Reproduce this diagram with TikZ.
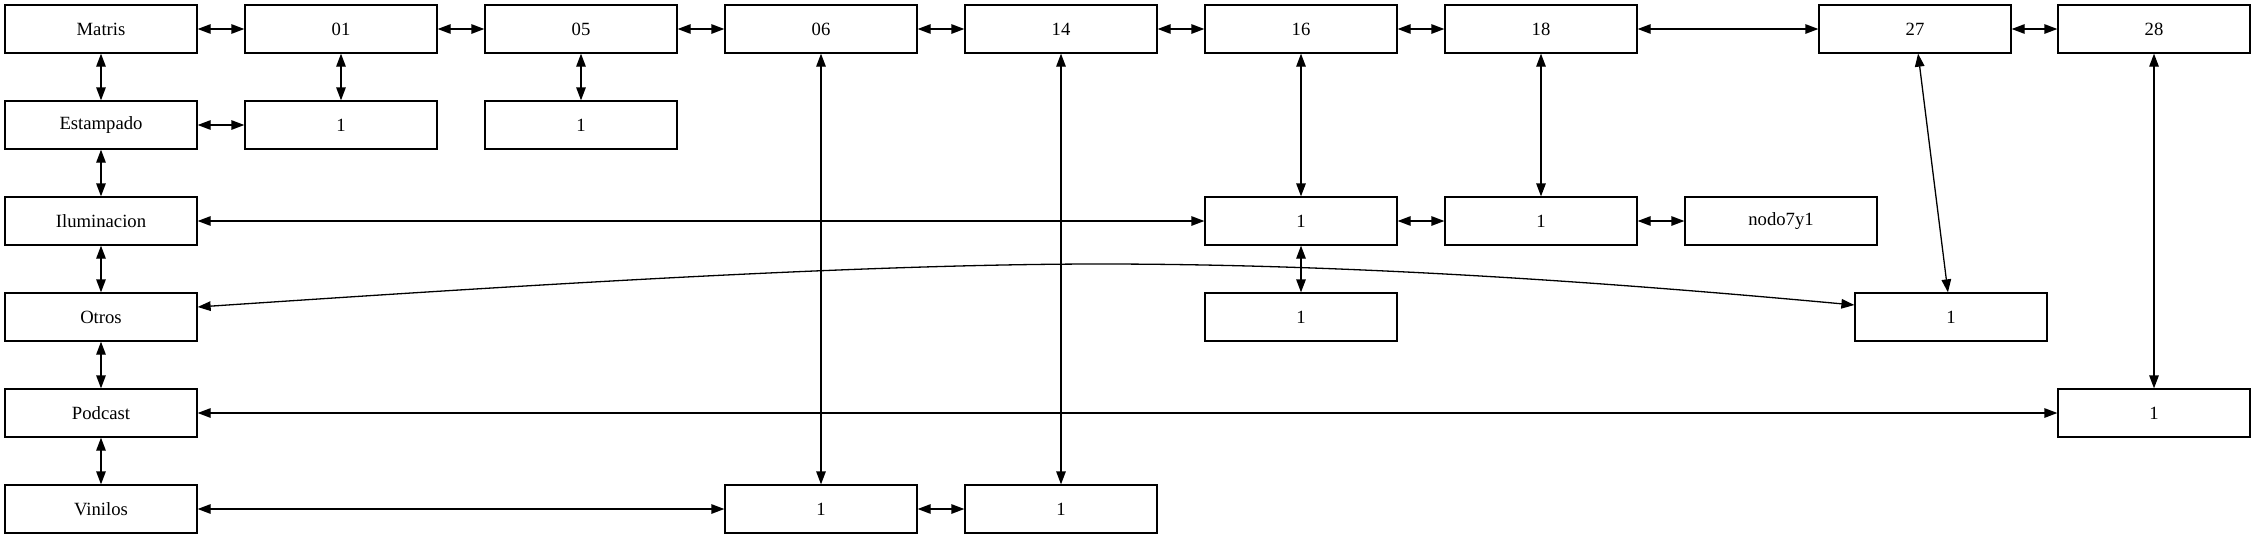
\documentclass[tikz,border=0pt]{standalone}
\usepackage{fontspec}
\setmainfont{Liberation Serif}
\usetikzlibrary{arrows.meta}
\tikzset{
  box/.style={draw=black, line width=1.3pt, minimum width=192pt, minimum height=48pt, inner sep=0pt,
    font=\fontsize{18.67pt}{22pt}\selectfont},
  conn/.style={line width=1.3pt, {Triangle[length=13pt,width=9.5pt]}-{Triangle[length=13pt,width=9.5pt]}},
}
\begin{document}
\begin{tikzpicture}[x=1pt,y=-1pt]
\useasboundingbox (0,0) rectangle (2256,539);
% row 0
\node[box] (m)   at (101,29)  {Matris};
\node[box] (a01) at (341,29)  {01};
\node[box] (a05) at (581,29)  {05};
\node[box] (a06) at (821,29)  {06};
\node[box] (a14) at (1061,29) {14};
\node[box] (a16) at (1301,29) {16};
\node[box] (a18) at (1541,29) {18};
\node[box] (a27) at (1915,29) {27};
\node[box] (a28) at (2154,29) {28};
% row 1
\node[box] (est) at (101,125) {Estampado};
\node[box] (b1)  at (341,125) {1};
\node[box] (b2)  at (581,125) {1};
% row 2
\node[box] (ilu) at (101,221)  {Iluminacion};
\node[box] (i5)  at (1301,221) {1};
\node[box] (i6)  at (1541,221) {1};
\node[box] (i7)  at (1781,221) {nodo7y1};
% row 3
\node[box] (otr) at (101,317)  {Otros};
\node[box] (o5)  at (1301,317) {1};
\node[box] (o8)  at (1951,317) {1};
% row 4
\node[box] (pod) at (101,413)  {Podcast};
\node[box] (p8)  at (2154,413) {1};
% row 5
\node[box] (vin) at (101,509)  {Vinilos};
\node[box] (v3)  at (821,509)  {1};
\node[box] (v4)  at (1061,509) {1};
% row 0 horizontals
\draw[conn] (m) -- (a01);
\draw[conn] (a01) -- (a05);
\draw[conn] (a05) -- (a06);
\draw[conn] (a06) -- (a14);
\draw[conn] (a14) -- (a16);
\draw[conn] (a16) -- (a18);
\draw[conn] (a18) -- (a27);
\draw[conn] (a27) -- (a28);
% left column verticals
\draw[conn] (m) -- (est);
\draw[conn] (est) -- (ilu);
\draw[conn] (ilu) -- (otr);
\draw[conn] (otr) -- (pod);
\draw[conn] (pod) -- (vin);
% others
\draw[conn] (a01) -- (b1);
\draw[conn] (a05) -- (b2);
\draw[conn] (est) -- (b1);
\draw[conn] (a06) -- (v3);
\draw[conn] (a14) -- (v4);
\draw[conn] (a16) -- (i5);
\draw[conn] (a18) -- (i6);
\draw[conn] (ilu) -- (i5);
\draw[conn] (i5) -- (i6);
\draw[conn] (i6) -- (i7);
\draw[conn] (i5) -- (o5);
\draw[conn] ([yshift=10pt]otr.east) .. controls (497,287) and (850,264) .. (1100,264)
  .. controls (1350,264) and (1605,282) .. ([yshift=12pt]o8.west);
\draw[conn] (a27) -- (o8);
\draw[conn] (pod) -- (p8);
\draw[conn] (a28) -- (p8);
\draw[conn] (vin) -- (v3);
\draw[conn] (v3) -- (v4);
\end{tikzpicture}
\end{document}
